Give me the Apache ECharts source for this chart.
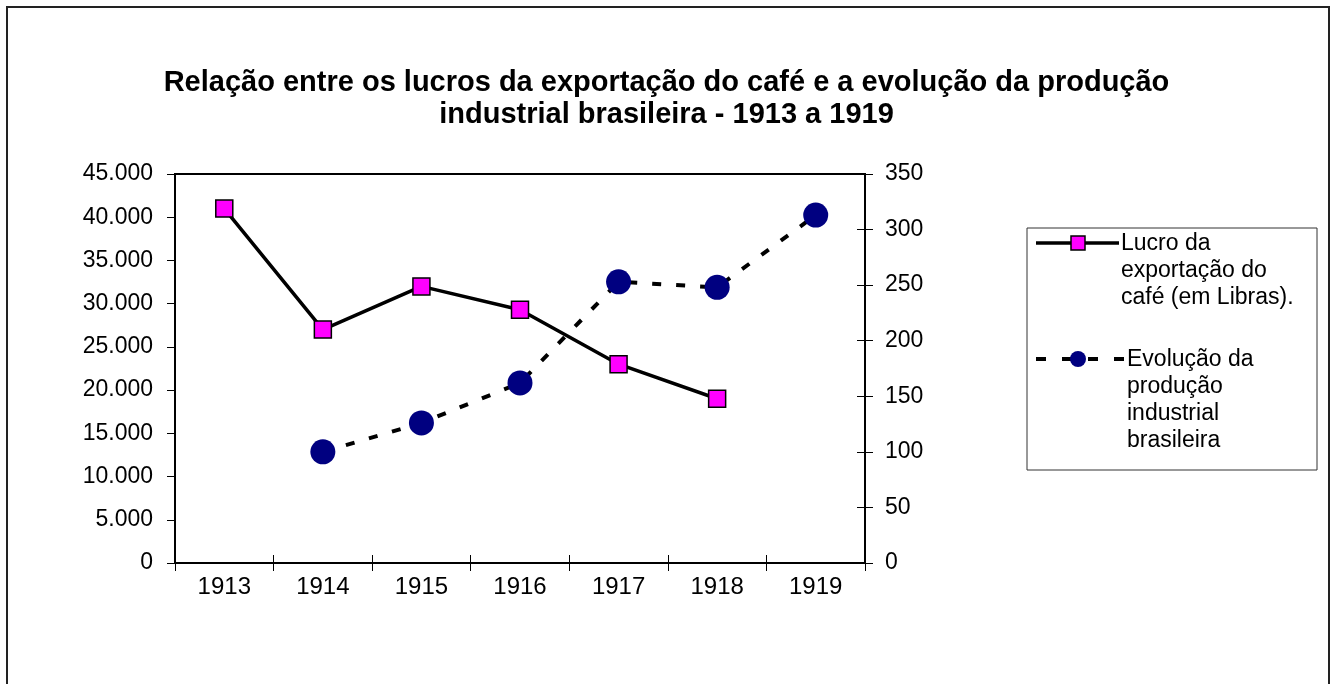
<!DOCTYPE html>
<html>
<head>
<meta charset="utf-8">
<script src="https://cdn.jsdelivr.net/npm/echarts@6/dist/echarts.min.js"></script>
<style>
  html, body { margin: 0; padding: 0; background: #fff; }
  #chart { width: 1333px; height: 684px; }
</style>
</head>
<body>
<div id="chart"></div>
<script>
const years = ['1913', '1914', '1915', '1916', '1917', '1918', '1919'];
// Lucro da exportação do café (Libras) - eixo da esquerda
const lucroCafe = [41000, 27000, 32000, 29300, 23000, 19000, null];
// Evolução da produção industrial - eixo da direita
const producaoIndustrial = [null, 100, 126, 162, 253, 248, 313];

const lucroName = 'Lucro da exportação do café (em Libras).';
const producaoName = 'Evolução da produção industrial brasileira';

const FONT = '"Liberation Sans", Arial, sans-serif';

const chart = echarts.init(document.getElementById('chart'));

// legend built by hand (multi-line labels, icon aligned with first line)
const legendGraphic = [
  { type: 'rect', shape: { x: 1027, y: 228, width: 290, height: 242 },
    style: { fill: '#fff', stroke: '#333', lineWidth: 1 }, z: 10 },
  { type: 'line', shape: { x1: 1036, y1: 243, x2: 1119, y2: 243 },
    style: { stroke: '#000', lineWidth: 3.5 }, z: 11 },
  { type: 'rect', shape: { x: 1071, y: 236, width: 14, height: 14 },
    style: { fill: '#ff00ff', stroke: '#000', lineWidth: 1.5 }, z: 12 },
  { type: 'text', x: 1121, y: 230,
    style: { text: 'Lucro da\nexportação do\ncafé (em Libras).', font: '23px ' + FONT, fill: '#000', lineHeight: 27 }, z: 12 },
  { type: 'line', shape: { x1: 1036, y1: 359, x2: 1124, y2: 359 },
    style: { stroke: '#000', lineWidth: 4, lineDash: [10, 16] }, z: 11 },
  { type: 'circle', shape: { cx: 1078, cy: 359, r: 8 },
    style: { fill: '#000080' }, z: 12 },
  { type: 'text', x: 1127, y: 346,
    style: { text: 'Evolução da\nprodução\nindustrial\nbrasileira', font: '23px ' + FONT, fill: '#000', lineHeight: 27 }, z: 12 }
];

const option = {
  backgroundColor: '#fff',
  animation: false,
  textStyle: { fontFamily: FONT },
  title: {
    text: 'Relação entre os lucros da exportação do café e a evolução da produção\nindustrial brasileira - 1913 a 1919',
    left: 'center',
    top: 62,
    textStyle: { fontFamily: FONT, fontSize: 29, fontWeight: 'bold', color: '#000', lineHeight: 32 }
  },
  grid: {
    left: 175, top: 174, width: 690, height: 389,
    show: true, borderColor: '#000', borderWidth: 2,
    outerBoundsMode: 'none'
  },
  xAxis: [{
    type: 'category',
    data: years,
    boundaryGap: true,
    axisLine: { lineStyle: { color: '#000', width: 2 } },
    axisTick: { show: true, length: 8, interval: 0, lineStyle: { color: '#000' } },
    axisLabel: { color: '#000', fontSize: 24, margin: 12, fontFamily: FONT }
  }, {
    type: 'category',
    data: years,
    position: 'bottom',
    boundaryGap: true,
    axisLine: { show: false },
    axisTick: { show: true, inside: true, length: 8, interval: 0, lineStyle: { color: '#000' } },
    axisLabel: { show: false }
  }],
  yAxis: [{
    type: 'value',
    min: 0, max: 45000, interval: 5000,
    position: 'left',
    axisLine: { show: true, lineStyle: { color: '#000', width: 2 } },
    axisTick: { show: true, length: 8, lineStyle: { color: '#000' } },
    splitLine: { show: false },
    axisLabel: {
      color: '#000', fontSize: 23, margin: 22, fontFamily: FONT,
      formatter: v => v.toLocaleString('de-DE')
    }
  }, {
    type: 'value',
    min: 0, max: 350, interval: 50,
    position: 'right',
    axisLine: { show: true, lineStyle: { color: '#000', width: 2 } },
    axisTick: { show: true, length: 8, lineStyle: { color: '#000' } },
    splitLine: { show: false },
    axisLabel: { color: '#000', fontSize: 23, margin: 20, fontFamily: FONT }
  }, {
    type: 'value',
    min: 0, max: 350, interval: 50,
    position: 'right',
    axisLine: { show: false },
    axisTick: { show: true, inside: true, length: 8, lineStyle: { color: '#000' } },
    splitLine: { show: false },
    axisLabel: { show: false }
  }],
  series: [{
    name: lucroName,
    type: 'line',
    xAxisIndex: 0,
    yAxisIndex: 0,
    data: lucroCafe,
    symbol: 'rect',
    symbolSize: 17,
    itemStyle: { color: '#ff00ff', borderColor: '#000', borderWidth: 1.5 },
    lineStyle: { color: '#000', width: 3.5 },
    z: 3
  }, {
    name: producaoName,
    type: 'line',
    xAxisIndex: 0,
    yAxisIndex: 1,
    data: producaoIndustrial,
    symbol: 'circle',
    symbolSize: 25,
    itemStyle: { color: '#000080', borderWidth: 0 },
    lineStyle: { color: '#000', width: 4, type: [9, 15] },
    z: 2
  }],
  graphic: [
    { type: 'rect', shape: { x: 7, y: 7, width: 1322, height: 700 },
      style: { fill: 'none', stroke: '#222', lineWidth: 2 }, silent: true },
    ...legendGraphic
  ]
};

chart.setOption(option);
</script>
</body>
</html>
